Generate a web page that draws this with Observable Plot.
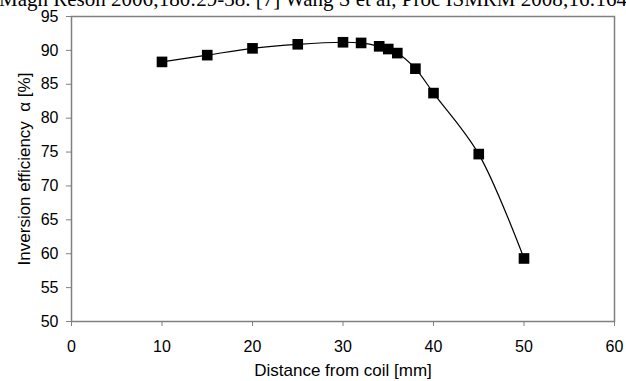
<!DOCTYPE html>
<html>
<head>
<meta charset="utf-8">
<script src="https://cdn.jsdelivr.net/npm/d3@7"></script>
<script src="https://cdn.jsdelivr.net/npm/@observablehq/plot@0.6"></script>
<style>
  html, body { margin: 0; padding: 0; background: #fff; overflow: hidden; }
  #wrap { position: relative; width: 626px; height: 381px; overflow: hidden; }
  #cite { position: absolute; left: -1px; top: -11px; font-family: "Liberation Serif", "Times New Roman", serif; font-size: 21px; color: #000; white-space: nowrap; line-height: 1; z-index: 2; }
  svg { font-family: "Liberation Sans", Arial, sans-serif; }
</style>
</head>
<body>
<div id="wrap">
  <div id="cite">Magn Reson 2006;180:29-38. [7] Wang S et al, Proc ISMRM 2008;16:1649</div>
  <div id="chart"></div>
</div>
<script>
const distance = [10, 15, 20, 25, 30, 32, 34, 35, 36, 38, 40, 45, 50];
const efficiency = [88.3, 89.3, 90.3, 90.9, 91.2, 91.1, 90.6, 90.2, 89.6, 87.3, 83.7, 74.7, 59.3];
const xTicks = [0, 10, 20, 30, 40, 50, 60];
const yTicks = [50, 55, 60, 65, 70, 75, 80, 85, 90, 95];
const xLabel = "Distance from coil [mm]";
const yLabel = "Inversion efficiency  \u03b1 [%]";

const data = distance.map((d, i) => ({x: d, y: efficiency[i]}));

const chart = Plot.plot({
  width: 626,
  height: 381,
  marginLeft: 71,
  marginRight: 12,
  marginTop: 16,
  marginBottom: 60,
  style: {fontFamily: "'Liberation Sans', Arial, sans-serif", fontSize: "16px", color: "#000", background: "#fff"},
  x: {domain: [0, 60], ticks: xTicks, tickSize: 5, tickPadding: 14, label: xLabel, labelAnchor: "center", labelOffset: 54, labelArrow: "none"},
  y: {domain: [50, 95], ticks: yTicks, tickSize: 5, tickPadding: 8, label: yLabel, labelAnchor: "center", labelOffset: 54, labelArrow: "none"},
  marks: [
    Plot.frame({stroke: "#808080", strokeWidth: 1.5}),
    Plot.line(data, {x: "x", y: "y", stroke: "#000", strokeWidth: 1.2, curve: "catmull-rom"}),
    Plot.dot(data, {x: "x", y: "y", symbol: "square", r: 6, fill: "#000", stroke: "none"})
  ]
});
document.getElementById("chart").appendChild(chart);
// gray tick lines, strip any arrows from labels, slightly larger axis titles
chart.querySelectorAll("[aria-label='x-axis tick'] path, [aria-label='y-axis tick'] path").forEach(p => p.setAttribute("stroke", "#808080"));
chart.querySelectorAll("[aria-label='x-axis label'], [aria-label='y-axis label']").forEach(g => g.setAttribute("font-size", "17px"));
chart.querySelectorAll("[aria-label='x-axis label'] text, [aria-label='y-axis label'] text").forEach(t => {
  t.textContent = t.textContent.replace(/\s*[\u2190-\u2193]\s*/g, "");
});
</script>
</body>
</html>
